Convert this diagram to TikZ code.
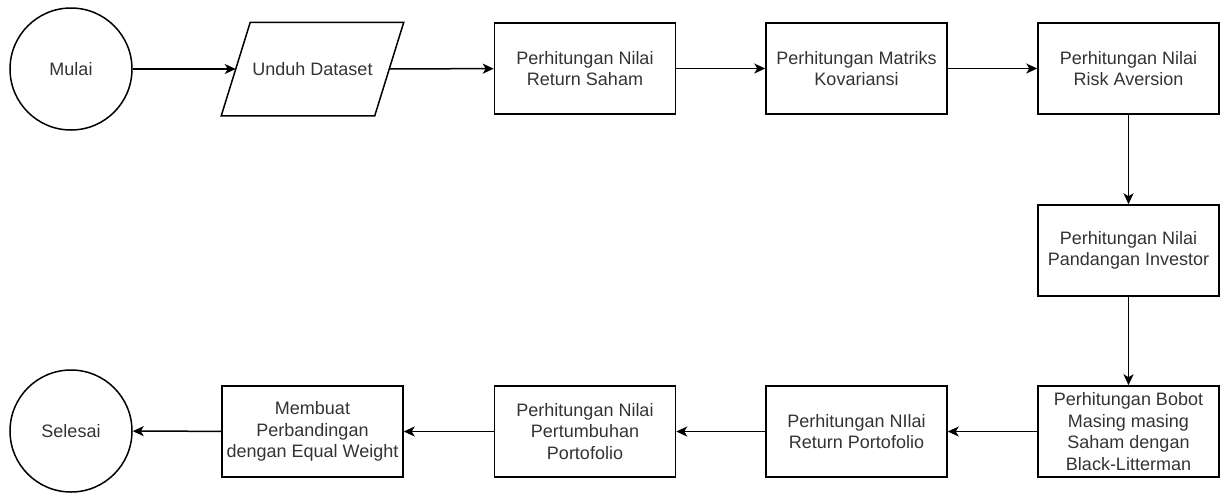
\documentclass[tikz,border=0pt]{standalone}
\usepackage{fontspec}
\setmainfont{Liberation Sans}
\usetikzlibrary{positioning,arrows.meta}

\begin{document}
\begin{tikzpicture}[x=1pt,y=-1pt,
	every node/.style={draw,line width=1.5pt,text=black!80,align=center,
		font=\fontsize{18}{21.6}\selectfont},
	proc/.style={rectangle,minimum width=181pt,minimum height=91pt,inner sep=1pt},
	term/.style={circle,minimum size=122pt},
	io/.style={rectangle,draw=none,minimum width=152pt,minimum height=92pt,inner sep=1pt},
	flow/.style={line width=1.5pt,-{Stealth[length=11pt,width=10pt,inset=3pt]}}]
\useasboundingbox (0,0) rectangle (1223,493);
\node[term] (mulai) at (71,69) {Mulai};
\node[io] (unduh) at (312.5,69) {Unduh Dataset};
\draw[line width=1.5pt] ([xshift=-14.5pt]unduh.south west) -- ([xshift=-14.5pt]unduh.south east)
	-- ([xshift=14.5pt]unduh.north east) -- ([xshift=14.5pt]unduh.north west) -- cycle;
\foreach[count=\c] \x/\y/\t in {
	585/68.5/{Perhitungan Nilai\\Return Saham},
	856.5/68.5/{Perhitungan Matriks\\Kovariansi},
	1128.5/68.5/{Perhitungan Nilai\\Risk Aversion},
	1128.5/250.5/{Perhitungan Nilai\\Pandangan Investor},
	1128.5/431.5/{Perhitungan Bobot\\Masing masing\\Saham dengan\\Black-Litterman},
	856.5/431.5/{Perhitungan NIlai\\Return Portofolio},
	585/431.5/{Perhitungan Nilai\\Pertumbuhan\\Portofolio},
	312.5/431.5/{Membuat\\Perbandingan\\dengan Equal Weight}}
	\node[proc] (b\c) at (\x,\y) {\t};
\node[term] (selesai) at (71,431) {Selesai};
\foreach \a/\b in {mulai/unduh,unduh/b1,b1/b2,b2/b3,b3/b4,b4/b5,b5/b6,b6/b7,b7/b8,b8/selesai}
	\draw[flow] (\a)--(\b);
\end{tikzpicture}
\end{document}
